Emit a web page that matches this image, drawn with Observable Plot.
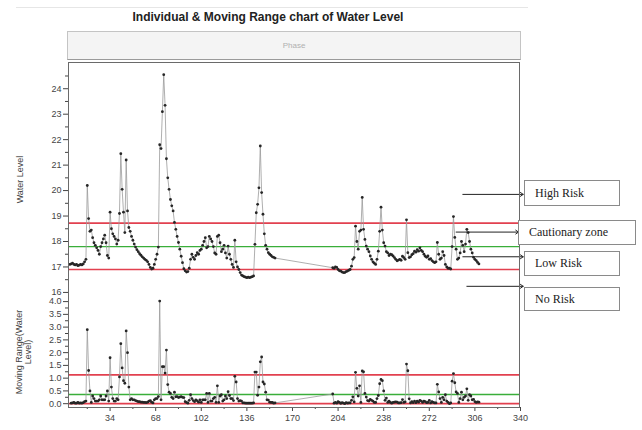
<!DOCTYPE html>
<html>
<head>
<meta charset="utf-8">
<script src="https://cdn.jsdelivr.net/npm/d3@7"></script>
<script src="https://cdn.jsdelivr.net/npm/@observablehq/plot@0.6"></script>
<style>
  body { margin: 0; background: #ffffff; font-family: "Liberation Sans", Arial, sans-serif; }
  #chart { position: relative; width: 642px; height: 430px; overflow: hidden; background: #ffffff; }
  #chart svg { position: absolute; left: 0; overflow: visible; background: transparent; }
  .title { position: absolute; left: 0; top: 10px; width: 536px; text-align: center; font-weight: bold; font-size: 12px; color: #222; }
  .topline { position: absolute; left: 16px; top: 7px; width: 512px; height: 0; border-top: 1px solid #e6e6e6; }
  .phase { position: absolute; left: 67px; top: 31px; width: 454px; height: 29px; box-sizing: border-box; background: #f4f4f4; border: 1px solid #c4c4c4; border-bottom: 1px solid #9a9a9a; color: #b0b0b0; font-size: 8px; text-align: center; line-height: 27px; }
  .frame { position: absolute; left: 68px; top: 62px; width: 452px; height: 346px; box-sizing: border-box; border: 1px solid #6a6a6a; pointer-events: none; z-index: 5; }
  .risk { position: absolute; box-sizing: border-box; background: #fff; border: 1px solid #8a8a8a; font-family: "Liberation Serif", "Times New Roman", serif; font-size: 12px; color: #222; padding-left: 10px; z-index: 6; display: flex; align-items: center; }
</style>
</head>
<body>
<div id="chart"></div>
<script>
// ---------- data ----------
// Water level, first run of observations (obs 4 .. 157)
const seg1Start = 4;
const seg1Level = [
  17.10, 17.12, 17.15, 17.10, 17.08, 17.10, 17.05, 17.07, 17.10, 17.08,
  17.12, 17.20, 17.30, 20.20, 18.90, 18.40, 18.45, 18.15, 17.95, 17.85,
  17.75, 17.65, 17.50, 17.80, 17.95, 18.10, 18.25, 17.95, 17.45, 17.35,
  19.15, 18.50, 18.30, 18.20, 18.10, 17.90, 18.05, 19.10, 21.45, 20.05,
  19.15, 18.35, 21.20, 19.20, 18.55, 18.40, 18.20, 18.05, 17.90, 17.78,
  17.68, 17.60, 17.52, 17.46, 17.40, 17.35, 17.30, 17.26, 17.20, 17.10,
  16.98, 16.92, 16.95, 17.10, 17.30, 17.50, 17.78, 21.80, 21.65, 23.10,
  24.55, 23.35, 21.25, 20.50, 20.05, 19.65, 19.40, 19.20, 18.75, 18.48,
  18.20, 17.96, 17.70, 17.42, 17.17, 16.93, 16.85, 16.80, 16.82, 16.95,
  17.30, 17.50, 17.38, 17.30, 17.45, 17.56, 17.50, 17.65, 17.70, 17.85,
  18.00, 18.15, 17.75, 17.80, 18.20, 18.10, 18.00, 17.80, 17.55, 17.50,
  18.20, 18.25, 17.95, 17.60, 17.70, 17.85, 17.55, 17.35, 17.82, 17.50,
  17.30, 17.10, 16.98, 18.05, 17.20, 17.00, 16.90, 16.78, 16.68, 16.65,
  16.62, 16.60, 16.58, 16.60, 16.58, 16.60, 16.62, 16.65, 17.89, 19.13,
  19.46, 20.11, 21.75, 19.92, 19.07, 18.30, 17.85, 17.70, 17.56, 17.50,
  17.45, 17.40, 17.38, 17.35
];
// Water level, second run of observations (obs 200 .. 309)
const seg2Start = 200;
const seg2Level = [
  16.97, 16.95, 17.00, 16.98, 16.90, 16.85, 16.84, 16.80, 16.78, 16.78,
  16.82, 16.84, 16.87, 16.90, 17.03, 17.30, 17.37, 18.60, 18.00, 17.70,
  18.40, 18.45, 19.73, 18.48, 18.08, 17.82, 17.70, 17.60, 17.43, 17.30,
  17.20, 17.15, 17.10, 17.30, 17.62, 18.40, 19.35, 18.45, 17.95, 17.82,
  17.60, 17.55, 17.45, 17.50, 17.48, 17.43, 17.37, 17.30, 17.24, 17.27,
  17.30, 17.26, 17.42, 17.37, 17.30, 18.85, 17.56, 17.37, 17.40, 17.48,
  17.52, 17.62, 17.58, 17.68, 17.62, 17.75, 17.65, 17.60, 17.50, 17.42,
  17.38, 17.43, 17.30, 17.33, 17.25, 17.20, 17.17, 17.20, 17.96, 17.50,
  17.30, 17.35, 17.60, 17.45, 17.10, 17.00, 16.95, 16.95, 16.92, 17.80,
  18.98, 18.16, 17.70, 17.30, 17.35, 17.55, 18.00, 17.85, 17.60, 17.90,
  18.48, 18.35, 18.00, 17.70, 17.55, 17.38, 17.30, 17.25, 17.18, 17.12
];
// control limits: [UCL, centre, LCL]
const levelLimits = [18.72, 17.80, 16.90];
const mrLimits = [1.13, 0.36, 0.0];
// tick labels
const levelTicks = [16, 17, 18, 19, 20, 21, 22, 23, 24];
const levelMinor = [16.5, 17.5, 18.5, 19.5, 20.5, 21.5, 22.5, 23.5, 24.5];
const mrTicks = [0, 0.5, 1, 1.5, 2, 2.5, 3, 3.5, 4];
const mrMinor = [0.25, 0.75, 1.25, 1.75, 2.25, 2.75, 3.25, 3.75];
const xTicks = [34, 68, 102, 136, 170, 204, 238, 272, 306, 340];
const xMinor = [17, 51, 85, 119, 153, 187, 221, 255, 289, 323];
// risk annotations (level in water-level units, arrow extent in observation units)
const riskLabels = ["High Risk", "Cautionary zone", "Low Risk", "No Risk"];
const riskLevels = [19.85, 18.37, 17.40, 16.24];
const riskFrom = [297, 292, 297, 300];
const riskTo = [342, 338.5, 342, 342];

// ---------- build tables ----------
const rows = [
  ...seg1Level.map((v, i) => ({obs: seg1Start + i, level: v})),
  ...seg2Level.map((v, i) => ({obs: seg2Start + i, level: v}))
];
// moving range = |x_i - x_(i-1)| of consecutive plotted observations
const mrRows = rows.slice(1).map((d, i) => ({obs: d.obs, mr: Math.abs(d.level - rows[i].level)}));
const riskRows = riskLabels.map((t, i) => ({label: t, level: riskLevels[i], from: riskFrom[i], to: riskTo[i]}));

const RED = "#e2404f", GREEN = "#3aae3a", LINE = "#9a9a9a", DOT = "#262626";
const baseStyle = {fontFamily: "'Liberation Sans', Arial, sans-serif", fontSize: "9px", color: "#444", background: "transparent", overflow: "visible"};

const chart = document.getElementById("chart");
chart.insertAdjacentHTML("beforeend",
  `<div class="topline"></div>
   <div class="title">Individual &amp; Moving Range chart of Water Level</div>
   <div class="phase">Phase</div>
   <div class="frame"></div>`);

const upper = Plot.plot({
  width: 642, height: 234,
  marginTop: 0, marginBottom: 0, marginLeft: 68, marginRight: 122,
  style: baseStyle,
  x: {domain: [3, 340], axis: null},
  y: {domain: [15.84, 25.03]},
  marks: [
    Plot.axisY({ticks: levelTicks, tickSize: 5, tickPadding: 2, label: "Water Level", labelAnchor: "center", labelOffset: 52, labelArrow: "none"}),
    Plot.axisY({ticks: levelMinor, tickSize: 3, tickFormat: () => "", label: null}),
    Plot.ruleY([levelLimits[0], levelLimits[2]], {stroke: RED, strokeWidth: 1.6}),
    Plot.ruleY([levelLimits[1]], {stroke: GREEN, strokeWidth: 1.4}),
    Plot.line(rows, {x: "obs", y: "level", stroke: LINE, strokeWidth: 0.8}),
    Plot.dot(rows, {x: "obs", y: "level", r: 1.4, fill: DOT, stroke: null}),
    Plot.arrow(riskRows, {x1: "from", x2: "to", y1: "level", y2: "level", stroke: "#222", strokeWidth: 1, headLength: 5, headAngle: 70})
  ]
});
upper.style.top = "62px";
chart.appendChild(upper);

const lower = Plot.plot({
  width: 642, height: 134,
  marginTop: 0, marginBottom: 23, marginLeft: 68, marginRight: 122,
  style: baseStyle,
  x: {domain: [3, 340]},
  y: {domain: [-0.15, 4.2]},
  marks: [
    Plot.axisY({ticks: mrTicks, tickFormat: ".1f", tickSize: 5, tickPadding: 2, label: "Moving Range(Water\nLevel)", labelAnchor: "center", labelOffset: 53, labelArrow: "none"}),
    Plot.axisY({ticks: mrMinor, tickSize: 3, tickFormat: () => "", label: null}),
    Plot.axisX({ticks: xTicks, tickSize: 4, tickPadding: 3, label: null}),
    Plot.axisX({ticks: xMinor, tickSize: 2, tickFormat: () => "", label: null}),
    Plot.ruleY([mrLimits[0], mrLimits[2]], {stroke: RED, strokeWidth: 1.6}),
    Plot.ruleY([mrLimits[1]], {stroke: GREEN, strokeWidth: 1.4}),
    Plot.line(mrRows, {x: "obs", y: "mr", stroke: LINE, strokeWidth: 0.8}),
    Plot.dot(mrRows, {x: "obs", y: "mr", r: 1.4, fill: DOT, stroke: null})
  ]
});
lower.style.top = "296px";
chart.appendChild(lower);

// annotation boxes (text labels beside the arrows)
const boxPos = [
  {left: 524, top: 180, width: 96, height: 26},
  {left: 518, top: 220, width: 118, height: 25},
  {left: 524, top: 251, width: 96, height: 25},
  {left: 524, top: 287, width: 96, height: 24}
];
riskLabels.forEach((t, i) => {
  const b = document.createElement("div");
  b.className = "risk";
  const p = boxPos[i];
  b.style.left = p.left + "px"; b.style.top = p.top + "px";
  b.style.width = p.width + "px"; b.style.height = p.height + "px";
  b.textContent = t;
  chart.appendChild(b);
});
</script>
</body>
</html>
